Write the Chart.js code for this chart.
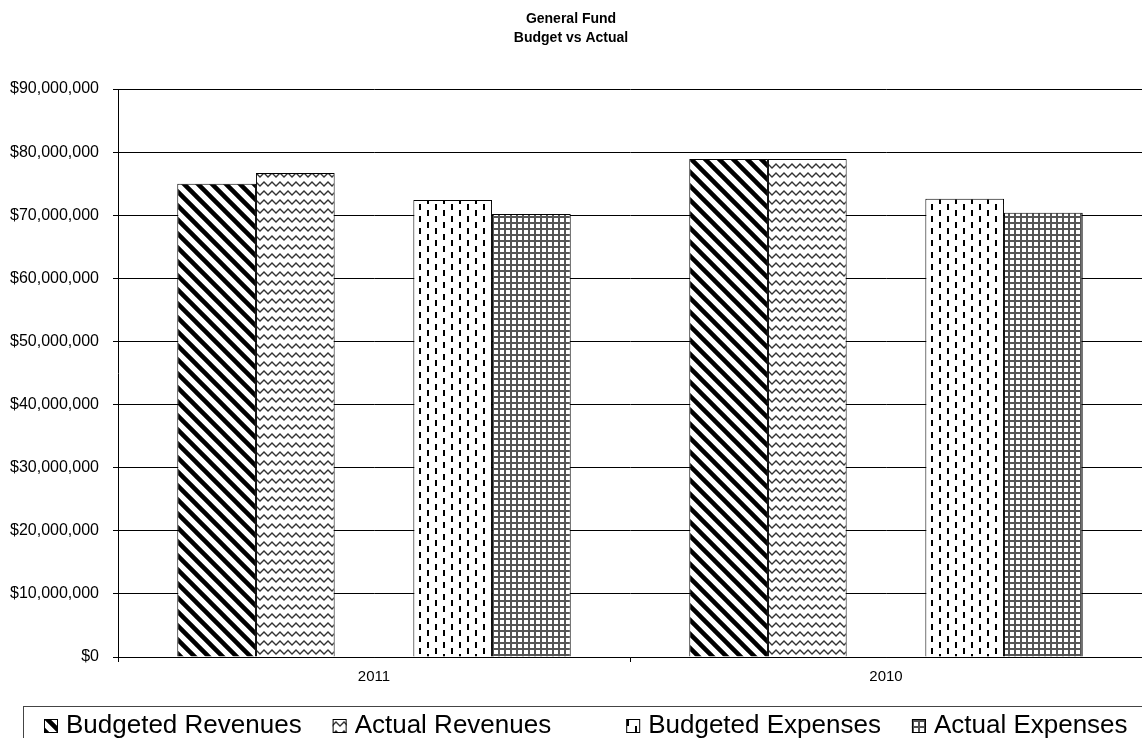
<!DOCTYPE html>
<html>
<head>
<meta charset="utf-8">
<title>General Fund - Budget vs Actual</title>
<script src="https://cdn.jsdelivr.net/npm/chart.js@4.4.0/dist/chart.umd.min.js"></script>
<style>
  html, body { margin: 0; padding: 0; background: #fff; overflow: hidden; }
  canvas { display: block; }
</style>
</head>
<body>
<canvas id="grafica" width="1142" height="738"></canvas>
<script>
// fiscal years
const categorias = ['2011', '2010'];

// dollars
const budgetedRevenues = [75000000, 78900000];
const actualRevenues = [76700000, 78900000];
const budgetedExpenses = [72400000, 72600000];
const actualExpenses = [70200000, 70400000];
const hueco = [null, null]; // empty slot between revenues and expenses

const yMax = 90000000;
const yStep = 10000000;

const fuente = '"Liberation Sans", Arial, sans-serif';
Chart.defaults.font.family = fuente;
Chart.defaults.color = '#000';

const ctx = document.getElementById('grafica').getContext('2d');

// small repeating tiles used as hatch fills
function tile(w, h, draw) {
    var c = document.createElement('canvas');
    c.width = w;
    c.height = h;
    var g = c.getContext('2d');
    g.fillStyle = '#fff';
    g.fillRect(0, 0, w, h);
    draw(g, w, h);
    return ctx.createPattern(c, 'repeat');
}

var rayas = tile(14, 14, function(g, w, h){
    g.strokeStyle = '#000';
    g.lineWidth = 4.5;
    g.beginPath();
    [-w, 0, w].forEach(function(dx){
        g.moveTo(dx - 2, -2);
        g.lineTo(dx + w + 2, h + 2);
    });
    g.stroke();
});

var ondas = tile(8, 9, function(g){
    g.strokeStyle = '#333';
    g.lineWidth = 1.3;
    g.beginPath();
    g.moveTo(-4, 6);
    g.lineTo(0, 2);
    g.lineTo(4, 6);
    g.lineTo(8, 2);
    g.lineTo(12, 6);
    g.stroke();
});

var guiones = tile(16, 12, function(g){
    g.fillStyle = '#000';
    g.fillRect(3, 0, 2, 6);
    g.fillRect(11, 6, 2, 6);
});

var cuadros = tile(6, 6, function(g){
    g.fillStyle = '#555';
    g.fillRect(0, 0, 6, 2);
    g.fillRect(0, 0, 2, 6);
});

// legend in a box along the bottom edge
const leyenda = {
    id: 'leyenda',
    afterDraw: function(chart){
        var c = chart.ctx;
        c.save();
        c.strokeStyle = '#444';
        c.lineWidth = 1;
        c.strokeRect(23.5, 706.5, chart.width, 60);
        c.font = '26px ' + fuente;
        c.textBaseline = 'alphabetic';
        var x = 44;
        chart.data.datasets.forEach(function(ds){
            if (!ds.label) { x += 44; return; }
            c.fillStyle = ds.backgroundColor;
            c.fillRect(x, 719, 14, 14);
            c.strokeStyle = '#000';
            c.strokeRect(x + 0.5, 719.5, 13, 13);
            c.fillStyle = '#000';
            c.fillText(ds.label, x + 22, 733);
            x += 22 + c.measureText(ds.label).width + 31;
        });
        c.restore();
    }
};

function serie(label, data, fill) {
    return {
        label: label,
        data: data,
        backgroundColor: fill,
        borderColor: '#000',
        borderWidth: 1,
        categoryPercentage: 0.7685,
        barPercentage: 1
    };
}

var chart = new Chart(ctx, {
    type: 'bar',
    data: {
        labels: categorias,
        datasets: [
            serie('Budgeted Revenues', budgetedRevenues, rayas),
            serie('Actual Revenues', actualRevenues, ondas),
            serie('', hueco, '#fff'),
            serie('Budgeted Expenses', budgetedExpenses, guiones),
            serie('Actual Expenses', actualExpenses, cuadros)
        ]
    },
    options: {
        animation: false,
        responsive: false,
        maintainAspectRatio: false,
        layout: { padding: { top: 0, left: 0, right: 0, bottom: 51 } },
        plugins: {
            legend: { display: false },
            tooltip: { enabled: false },
            title: {
                display: true,
                text: ['General Fund', 'Budget vs Actual'],
                color: '#000',
                font: { size: 14, weight: 'bold', lineHeight: 1.4 },
                padding: { top: 9, bottom: 40.8 }
            }
        },
        scales: {
            x: {
                grid: { drawOnChartArea: false, drawTicks: true, tickLength: 5, color: '#000', offset: true },
                border: { color: '#000' },
                ticks: { color: '#000', font: { size: 15 }, padding: 6 },
                afterFit: function(scale){ scale.height = 30; }
            },
            y: {
                min: 0,
                max: yMax,
                grid: { color: '#000', tickLength: 5 },
                border: { color: '#000' },
                ticks: {
                    stepSize: yStep,
                    color: '#000',
                    font: { size: 16 },
                    padding: 14,
                    callback: function(v){ return '$' + v.toLocaleString('en-US'); }
                },
                afterFit: function(scale){ scale.width = 118; }
            }
        }
    },
    plugins: [leyenda]
});
</script>
</body>
</html>
